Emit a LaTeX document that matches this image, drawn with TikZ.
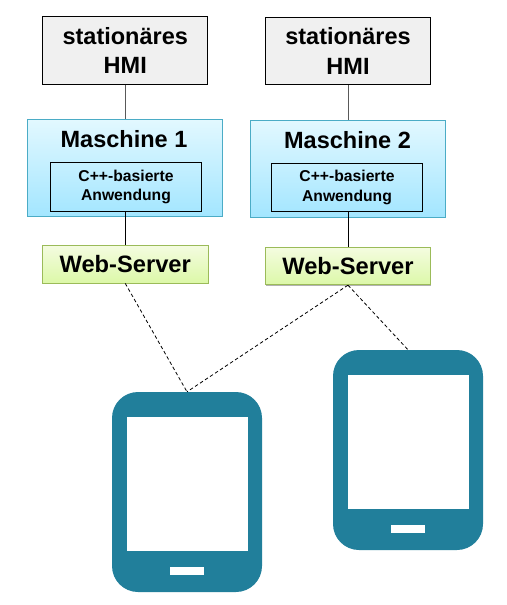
\documentclass[tikz,border=0pt]{standalone}
\usepackage{fontspec}
\setmainfont{Liberation Sans}
\usetikzlibrary{shadows}
\definecolor{tabletc}{HTML}{217F9B}
\definecolor{machedgec}{HTML}{4BACC6}
\definecolor{machtop}{HTML}{E2F8FF}
\definecolor{machbot}{HTML}{A3E6FF}
\definecolor{webedgec}{HTML}{9BBB59}
\definecolor{webtop}{HTML}{F4FCE0}
\definecolor{webbot}{HTML}{DCF8A8}
\tikzset{
  x=1pt,y=-1pt,
  hmibox/.style={draw=black,line width=1pt,fill=black!6,minimum width=165pt,minimum height=67.5pt,inner sep=0pt,align=center,font=\bfseries\fontsize{23.5}{29.5}\selectfont},
  softshadow/.style={drop shadow={shadow xshift=0.6pt,shadow yshift=-1.4pt,opacity=0.3,fill=black}},
  machbox/.style={draw=machedgec,line width=0.8pt,minimum width=195pt,minimum height=96.5pt,top color=machtop,bottom color=machbot,softshadow,inner sep=0pt},
  appbox/.style={draw=black,line width=1pt,minimum width=151pt,minimum height=48.5pt,inner sep=0pt,align=center,font=\bfseries\fontsize{15.7}{19.5}\selectfont},
  webbox/.style={draw=webedgec,line width=0.8pt,minimum width=165.5pt,minimum height=37.5pt,top color=webtop,bottom color=webbot,softshadow,inner sep=0pt,font=\bfseries\fontsize{23.7}{26}\selectfont},
  solidlink/.style={draw=black,line width=0.9pt},
  dashlink/.style={draw=black,line width=0.8pt,dash pattern=on 3.5pt off 2.5pt},
  tablet/.style={fill=tabletc,draw=none,rounded corners=26pt,minimum width=150pt,minimum height=200pt,inner sep=0pt},
  screen/.style={fill=white,draw=none,minimum width=121pt,minimum height=133.5pt,inner sep=0pt},
  homekey/.style={fill=white,draw=none,minimum width=34pt,minimum height=8pt,inner sep=0pt},
  title/.style={font=\bfseries\fontsize{23.5}{26}\selectfont,inner sep=0pt}
}
\begin{document}
\begin{tikzpicture}
\useasboundingbox (0,0) rectangle (506,605);
% Machines
\node[machbox] (m1) at (125.25,167.75) {};
\node[machbox] (m2) at (348,168.75) {};
\node[title] (t1) at (124,139) {Maschine 1};
\node[title] (t2) at (347.5,140) {Maschine 2};
\node[appbox] (a1) at (126,186.75) {\raisebox{-1pt}{C++-basierte}\\\raisebox{-1pt}{Anwendung}};
\node[appbox] (a2) at (347,187.5) {\raisebox{-1pt}{C++-basierte}\\\raisebox{-1pt}{Anwendung}};
% HMI
\node[hmibox] (h1) at (125.25,50.25) {stationäres\\HMI};
\node[hmibox] (h2) at (348,51) {stationäres\\HMI};
% Web servers
\node[webbox] (w1) at (125.25,264.25) {\raisebox{-1pt}{Web-Server}};
\node[webbox] (w2) at (348,266) {\raisebox{-1pt}{Web-Server}};
% Tablets
\node[tablet] (p1) at (187,492) {};
\node[screen] (s1) at (187,483.75) {};
\node[homekey] (k1) at (187,571) {};
\node[tablet] (p2) at (408,450) {};
\node[screen] (s2) at (408,441.75) {};
\node[homekey] (k2) at (408,529) {};
% Connectors
\draw[solidlink,draw=black!65] (h1.south) -- (m1.north);
\draw[solidlink,draw=black!65] (h2.south) -- (m2.north);
\draw[solidlink] (a1.south -| w1.north) -- (w1.north);
\draw[solidlink] (a2.south -| w2.north) -- (w2.north);
\draw[dashlink] (w1.south) -- (p1.north);
\draw[dashlink] (w2.south) -- (p1.north);
\draw[dashlink] (w2.south) -- (p2.north);
\end{tikzpicture}
\end{document}
